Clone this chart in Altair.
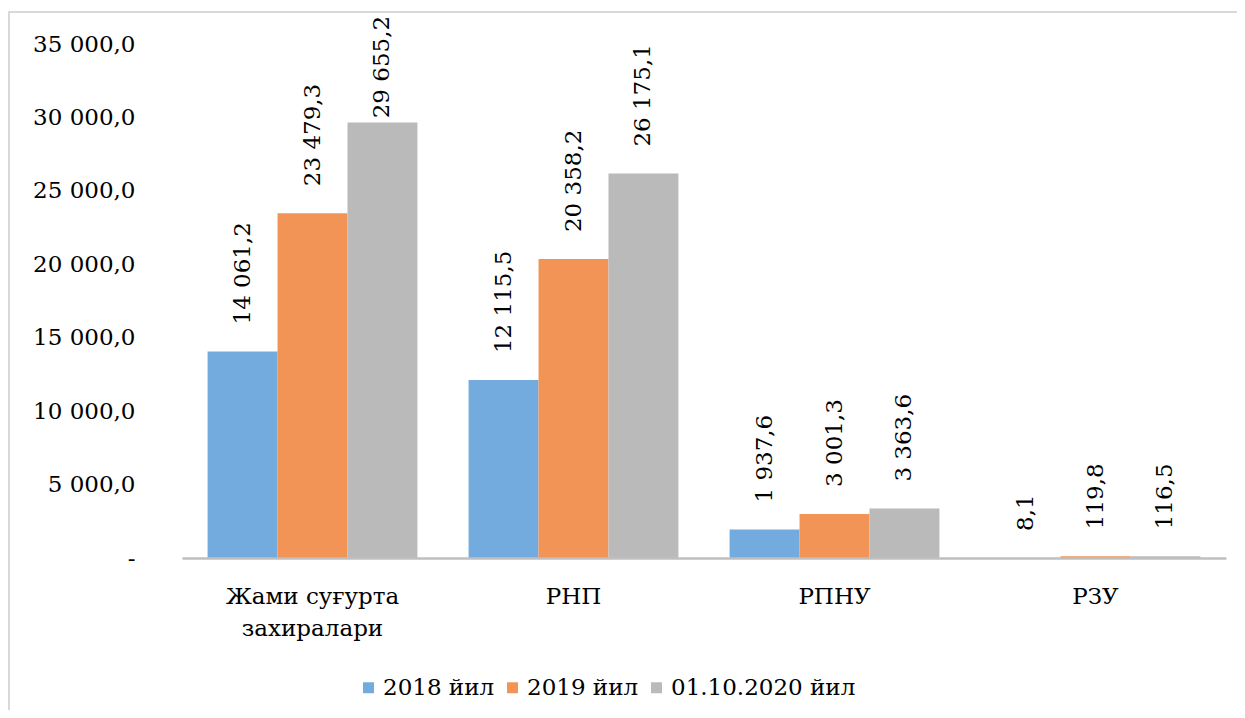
import altair as alt
import pandas as pd

categories = ["Жами суғурта захиралари", "РНП", "РПНУ", "РЗУ"]
series = ["2018 йил", "2019 йил", "01.10.2020 йил"]
v2018 = [14061.2, 12115.5, 1937.6, 8.1]
v2019 = [23479.3, 20358.2, 3001.3, 119.8]
v2020 = [29655.2, 26175.1, 3363.6, 116.5]
y_ticks = [0, 5000, 10000, 15000, 20000, 25000, 30000, 35000]

rows = []
for s, vals in zip(series, [v2018, v2019, v2020]):
    for c, v in zip(categories, vals):
        rows.append({"category": c, "series": s, "value": v})
df = pd.DataFrame(rows)

colors = ["#74abdf", "#f19456", "#bababa"]
FONT = "DejaVu Serif"
FS = 23
fmt = "replace(replace(format(datum.value, ',.1f'), ',', ' '), '.', ',')"

base = alt.Chart(df).encode(
    x=alt.X(
        "category:N",
        sort=categories,
        title=None,
        scale=alt.Scale(paddingInner=0.196, paddingOuter=0.098),
        axis=alt.Axis(
            labelAngle=0,
            domainColor="#bfbfbf",
            domainWidth=2.5,
            ticks=False,
            grid=False,
            zindex=1,
            labelFont=FONT,
            labelFontSize=FS,
            labelColor="#000000",
            labelPadding=27,
            labelLineHeight=32,
            labelLimit=400,
            labelExpr="datum.label == 'Жами суғурта захиралари' ? ['Жами суғурта', 'захиралари'] : datum.label",
        ),
    ),
    xOffset=alt.XOffset("series:N", sort=series),
)

y_enc = alt.Y(
    "value:Q",
    scale=alt.Scale(domain=[0, 35000], nice=False),
    title=None,
    axis=alt.Axis(
        values=y_ticks,
        labelExpr="datum.value == 0 ? '-\u00a0\u00a0' : " + fmt,
        domain=False,
        ticks=False,
        grid=False,
        labelFont=FONT,
        labelFontSize=FS,
        labelColor="#000000",
        labelPadding=47,
        labelLimit=300,
    ),
)

bars = base.mark_bar().encode(
    y=y_enc,
    color=alt.Color(
        "series:N",
        sort=series,
        scale=alt.Scale(domain=series, range=colors),
        legend=alt.Legend(
            orient="none",
            legendX=175,
            legendY=632,
            direction="horizontal",
            title=None,
            symbolType="square",
            symbolSize=121,
            symbolStrokeWidth=0,
            labelFont=FONT,
            labelFontSize=FS,
            labelColor="#000000",
            labelOffset=3,
            labelLimit=400,
            columnPadding=6,
            padding=0,
        ),
    ),
)

# labels are kept inside the chart frame (the tallest one is pulled down like Excel does)
labels = base.transform_calculate(
    lbl=fmt, lbl_pos="min(datum.value, 28100)"
).mark_text(
    angle=270,
    align="left",
    baseline="middle",
    dx=27,
    font=FONT,
    fontSize=FS,
    color="#000000",
).encode(y=alt.Y("lbl_pos:Q"), text="lbl:N")

one = alt.Data(values=[{"a": 1}])
top_border = alt.Chart(one).mark_rule(color="#d9d9d9", strokeWidth=2).encode(
    x=alt.value(-174), x2=alt.value(1065), y=alt.value(-32)
)
left_border = alt.Chart(one).mark_rule(color="#d9d9d9", strokeWidth=2).encode(
    x=alt.value(-173), y=alt.value(-33), y2=alt.value(700)
)

chart = (
    alt.layer(top_border, left_border, bars, labels)
    .properties(
        width=1044,
        height=514,
        autosize=alt.AutoSizeParams(type="none"),
        padding={"left": 174, "top": 36, "right": 11, "bottom": 152},
    )
    .configure_view(stroke=None)
)

chart.save("out.html", embed_options={"renderer": "svg", "actions": False})
